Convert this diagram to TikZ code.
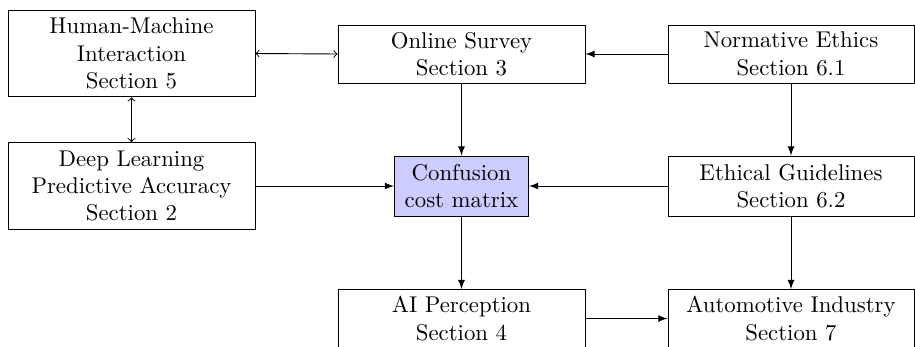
\documentclass[tikz,border=0pt]{standalone}
\usetikzlibrary{arrows}
\begin{document}
\begin{tikzpicture}[x=0.4386pt, y=-0.4386pt,
  box/.style={draw, align=center, inner sep=0pt, minimum width=108.3pt},
  two/.style={box, minimum height=25.4pt},
  three/.style={box, minimum height=38.0pt},
  conn/.style={-latex},
  dual/.style={<->}]
\clip (0,0) rectangle (915,346);
\node[three] (hmi) at (131.5,53.5) {Human-Machine\\Interaction\\Section 5};
\node[two] (survey) at (461.5,54) {Online Survey\\Section 3};
\node[two, minimum width=107.9pt] (norm) at (791,54) {Normative Ethics\\Section 6.1};
\node[three] (deep) at (131.5,186) {Deep Learning\\Predictive Accuracy\\Section 2};
\node[box, fill=blue!20, minimum width=58.8pt, minimum height=26.3pt] (conf) at (461.5,186) {Confusion\\cost matrix};
\node[two, minimum width=107.9pt, minimum height=26.3pt] (ethic) at (791,186) {Ethical Guidelines\\Section 6.2};
\node[two] (ai) at (461.5,318.5) {AI Perception\\Section 4};
\node[two, minimum width=107.9pt] (auto) at (791,318.5) {Automotive Industry\\Section 7};
\draw[dual] (hmi.east) -- (survey.west);
\draw[dual] (hmi.south) -- (deep.north);
\draw[conn] (norm.west) -- (survey.east);
\draw[conn] (survey.south) -- (conf.north);
\draw[conn] (norm.south) -- (ethic.north);
\draw[conn] (deep.east) -- (conf.west);
\draw[conn] (ethic.west) -- (conf.east);
\draw[conn] (conf.south) -- (ai.north);
\draw[conn] (ethic.south) -- (auto.north);
\draw[conn] (ai.east) -- (auto.west);
\end{tikzpicture}
\end{document}
